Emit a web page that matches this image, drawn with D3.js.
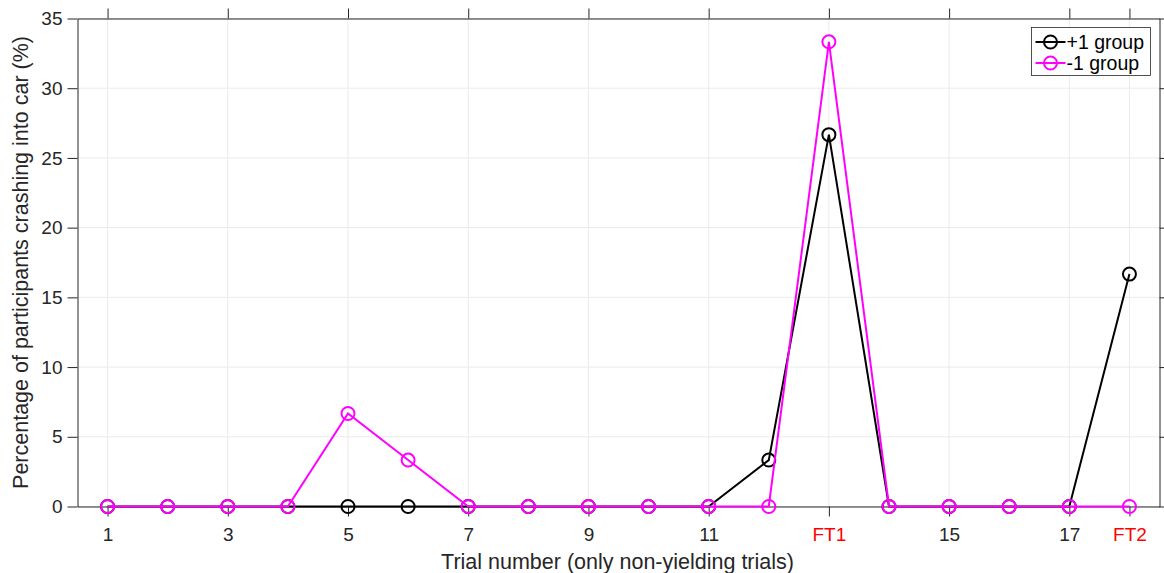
<!DOCTYPE html>
<html>
<head>
<meta charset="utf-8">
<script src="https://cdn.jsdelivr.net/npm/d3@7"></script>
<style>
  body { margin: 0; background: #fff; }
  text { font-family: "Liberation Sans", Arial, sans-serif; }
</style>
</head>
<body>
<svg width="1164" height="573"></svg>
<script>
// trial index (1..18), FT = failure trials
var trials = [1, 2, 3, 4, 5, 6, 7, 8, 9, 10, 11, 12, 13, 14, 15, 16, 17, 18];
var plusOne = [0, 0, 0, 0, 0, 0, 0, 0, 0, 0, 0, 3.33, 26.67, 0, 0, 0, 0, 16.67];
var minusOne = [0, 0, 0, 0, 6.67, 3.33, 0, 0, 0, 0, 0, 0, 33.33, 0, 0, 0, 0, 0];
var xTicks = [1, 3, 5, 7, 9, 11, 13, 15, 17, 18];
var xTickLabels = ["1", "3", "5", "7", "9", "11", "FT1", "15", "17", "FT2"];
var yTicks = [0, 5, 10, 15, 20, 25, 30, 35];
var seriesNames = ["+1 group", "-1 group"];
var seriesColors = ["#000000", "#ff00ff"];

var svg = d3.select("svg");
var pL = 77.5, pR = 1159.5, pT = 18.5, pB = 506.5;

var x = d3.scaleLinear().domain([0.5, 18.5]).range([pL, pR]);
var y = d3.scaleLinear().domain([0, 35]).range([pB, pT]);

var axisColor = "#262626";

// grid
var grid = svg.append("g");
grid.selectAll("line.gx").data(xTicks).enter().append("line")
    .attr("x1", function(d) { return x(d); }).attr("x2", function(d) { return x(d); })
    .attr("y1", pT).attr("y2", pB)
    .attr("stroke", "#ebebeb").attr("stroke-width", 1);
grid.selectAll("line.gy").data(yTicks).enter().append("line")
    .attr("y1", function(d) { return y(d); }).attr("y2", function(d) { return y(d); })
    .attr("x1", pL).attr("x2", pR)
    .attr("stroke", "#ebebeb").attr("stroke-width", 1);

// axes (ticks out, box)
var xAxisB = d3.axisBottom(x).tickValues(xTicks).tickSize(10).tickSizeOuter(0)
    .tickFormat(function(d, i) { return xTickLabels[i]; });
var gxb = svg.append("g").attr("transform", "translate(0," + pB + ")").call(xAxisB);
var xAxisT = d3.axisTop(x).tickValues(xTicks).tickSize(10).tickSizeOuter(0).tickFormat("");
var gxt = svg.append("g").attr("transform", "translate(0," + pT + ")").call(xAxisT);
var yAxisL = d3.axisLeft(y).tickValues(yTicks).tickSize(10).tickSizeOuter(0);
var gyl = svg.append("g").attr("transform", "translate(" + pL + ",0)").call(yAxisL);
var yAxisR = d3.axisRight(y).tickValues(yTicks).tickSize(10).tickSizeOuter(0).tickFormat("");
var gyr = svg.append("g").attr("transform", "translate(" + pR + ",0)").call(yAxisR);

[gxb, gxt, gyl, gyr].forEach(function(g) {
  g.select(".domain").attr("stroke", axisColor).attr("stroke-width", 1);
  g.selectAll(".tick line").attr("stroke", axisColor);
  g.selectAll(".tick text").attr("fill", axisColor).style("font-size", "19px")
    .style("font-family", "'Liberation Sans', Arial, sans-serif");
});
gxb.selectAll(".tick text").attr("y", 21)
   .attr("fill", function(d, i) { return xTickLabels[i].indexOf("FT") === 0 ? "#ff0000" : axisColor; });
gyl.selectAll(".tick text").attr("x", -15);

// axis labels
svg.append("text").attr("x", (pL + pR) / 2 - 1).attr("y", 569)
    .attr("text-anchor", "middle").attr("fill", axisColor)
    .style("font-size", "21.5px").text("Trial number (only non-yielding trials)");
svg.append("text").attr("transform", "translate(28," + ((pT + pB) / 2) + ") rotate(-90)")
    .attr("text-anchor", "middle").attr("fill", axisColor)
    .style("font-size", "21.5px").text("Percentage of participants crashing into car (%)");

// series
var line = d3.line().x(function(d) { return x(d[0]); }).y(function(d) { return y(d[1]); });
[plusOne, minusOne].forEach(function(vals, s) {
  var pts = trials.map(function(t, i) { return [t, vals[i]]; });
  var g = svg.append("g");
  g.append("path").datum(pts).attr("d", line)
      .attr("fill", "none").attr("stroke", seriesColors[s]).attr("stroke-width", 2);
  g.selectAll("circle").data(pts).enter().append("circle")
      .attr("cx", function(d) { return x(d[0]); })
      .attr("cy", function(d) { return y(d[1]); })
      .attr("r", 6.5).attr("fill", "none")
      .attr("stroke", seriesColors[s]).attr("stroke-width", 2);
});

// legend
var lg = svg.append("g").attr("transform", "translate(1031.5,27.5)");
lg.append("rect").attr("width", 119).attr("height", 48)
    .attr("fill", "#fff").attr("stroke", axisColor).attr("stroke-width", 0.8);
seriesNames.forEach(function(name, i) {
  var cy = 14.5 + i * 21;
  lg.append("line").attr("x1", 4).attr("x2", 34).attr("y1", cy).attr("y2", cy)
      .attr("stroke", seriesColors[i]).attr("stroke-width", 2);
  lg.append("circle").attr("cx", 19).attr("cy", cy).attr("r", 6.5)
      .attr("fill", "none").attr("stroke", seriesColors[i]).attr("stroke-width", 2);
  lg.append("text").attr("x", 35).attr("y", cy).attr("dy", "0.35em")
      .attr("fill", "#000").style("font-size", "19.5px").text(name);
});
</script>
</body>
</html>
